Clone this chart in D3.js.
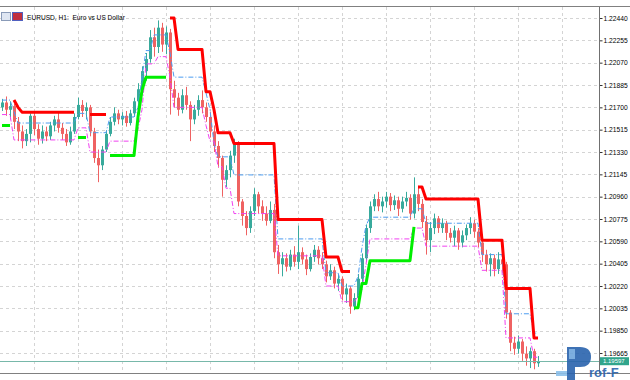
<!DOCTYPE html>
<html>
<head>
<meta charset="utf-8">
<script src="https://cdn.jsdelivr.net/npm/d3@7"></script>
<style>
  body { margin: 0; background: #fff; }
  svg { display: block; }
  .lbl { font-family: "Liberation Sans", Arial, sans-serif; font-size: 6.7px; fill: #000; }
</style>
</head>
<body>
<div id="chart"></div>
<script>
// EURUSD H1 candles with step trailing lines
// ======================================================

var closes = [1.2174,1.2168,1.2171,1.2158,1.2150,1.2142,1.2148,1.2163,1.2152,1.2144,
  1.2150,1.2146,1.2155,1.2160,1.2153,1.2148,1.2141,1.2150,1.2162,1.2172,
  1.2167,1.2170,1.2150,1.2128,1.2122,1.2135,1.2148,1.2158,1.2165,1.2160,
  1.2163,1.2157,1.2165,1.2175,1.2185,1.2200,1.2210,1.2228,1.2220,1.2236,
  1.2222,1.2232,1.2185,1.2178,1.2168,1.2180,1.2172,1.2160,1.2168,1.2176,
  1.2170,1.2162,1.2150,1.2138,1.2128,1.2110,1.2118,1.2130,1.2140,1.2092,
  1.2080,1.2070,1.2084,1.2098,1.2088,1.2082,1.2076,1.2085,1.2050,1.2040,
  1.2045,1.2038,1.2048,1.2042,1.2050,1.2044,1.2036,1.2046,1.2052,1.2045,
  1.2040,1.2030,1.2035,1.2024,1.2028,1.2015,1.2020,1.2005,1.2012,1.2028,
  1.2045,1.2070,1.2088,1.2094,1.2088,1.2092,1.2096,1.2089,1.2093,1.2086,
  1.2092,1.2095,1.2082,1.2098,1.2090,1.2075,1.2060,1.2070,1.2078,1.2070,
  1.2074,1.2066,1.2062,1.2068,1.2058,1.2064,1.2070,1.2074,1.2067,1.2058,
  1.2048,1.2040,1.2045,1.2036,1.2044,1.2040,1.2000,1.1975,1.1970,1.1976,
  1.1966,1.1962,1.1968,1.1958,1.19597];

var opens = [1.2170,1.2174,1.2168,1.2171,1.2158,1.2150,1.2142,1.2148,1.2163,1.2152,
  1.2144,1.2150,1.2146,1.2155,1.2160,1.2153,1.2148,1.2141,1.2150,1.2162,
  1.2172,1.2167,1.2170,1.2150,1.2128,1.2122,1.2135,1.2148,1.2158,1.2165,
  1.2160,1.2163,1.2157,1.2165,1.2175,1.2185,1.2200,1.2210,1.2228,1.2220,
  1.2236,1.2222,1.2232,1.2185,1.2178,1.2168,1.2180,1.2172,1.2160,1.2168,
  1.2176,1.2170,1.2162,1.2150,1.2138,1.2128,1.2110,1.2118,1.2130,1.2140,
  1.2092,1.2080,1.2070,1.2084,1.2098,1.2088,1.2082,1.2076,1.2085,1.2050,
  1.2040,1.2045,1.2038,1.2048,1.2042,1.2050,1.2044,1.2036,1.2046,1.2052,
  1.2045,1.2040,1.2030,1.2035,1.2024,1.2028,1.2015,1.2020,1.2005,1.2012,
  1.2028,1.2045,1.2070,1.2088,1.2094,1.2088,1.2092,1.2096,1.2089,1.2093,
  1.2086,1.2092,1.2095,1.2082,1.2098,1.2090,1.2075,1.2060,1.2070,1.2078,
  1.2070,1.2074,1.2066,1.2062,1.2068,1.2058,1.2064,1.2070,1.2074,1.2067,
  1.2058,1.2048,1.2040,1.2045,1.2036,1.2044,1.2040,1.2000,1.1975,1.1970,
  1.1976,1.1966,1.1962,1.1968,1.1958];

var highs = [1.2177,1.2179,1.2175,1.2173,1.2162,1.2155,1.2152,1.2165,1.2166,1.2156,
  1.2155,1.2154,1.2158,1.2163,1.2166,1.2157,1.2152,1.2154,1.2165,1.2178,
  1.2176,1.2174,1.2172,1.2153,1.2135,1.2138,1.2151,1.2162,1.2170,1.2168,
  1.2166,1.2167,1.2168,1.2178,1.2190,1.2204,1.2215,1.2234,1.2236,1.2242,
  1.2240,1.2237,1.2235,1.2192,1.2182,1.2185,1.2187,1.2175,1.2172,1.2180,
  1.2184,1.2174,1.2166,1.2155,1.2142,1.2130,1.2122,1.2134,1.2144,1.2142,
  1.2094,1.2084,1.2088,1.2103,1.2100,1.2093,1.2088,1.2092,1.2090,1.2056,
  1.2050,1.2049,1.2052,1.2055,1.2072,1.2054,1.2048,1.2049,1.2056,1.2055,
  1.2050,1.2043,1.2040,1.2038,1.2032,1.2030,1.2024,1.2022,1.2016,1.2032,
  1.2049,1.2073,1.2092,1.2098,1.2100,1.2096,1.2100,1.2099,1.2097,1.2096,
  1.2096,1.2100,1.2098,1.2112,1.2105,1.2094,1.2080,1.2075,1.2082,1.2080,
  1.2078,1.2076,1.2070,1.2072,1.2070,1.2068,1.2073,1.2079,1.2077,1.2070,
  1.2060,1.2052,1.2049,1.2048,1.2050,1.2052,1.2042,1.2002,1.1980,1.1981,
  1.1978,1.1972,1.1971,1.1970,1.1964];

var lows = [1.2167,1.2163,1.2160,1.2152,1.2142,1.2136,1.2138,1.2141,1.2147,1.2139,
  1.2140,1.2142,1.2143,1.2150,1.2149,1.2143,1.2138,1.2139,1.2148,1.2160,
  1.2162,1.2160,1.2146,1.2124,1.2108,1.2118,1.2133,1.2146,1.2155,1.2156,
  1.2155,1.2154,1.2155,1.2162,1.2170,1.2182,1.2192,1.2207,1.2212,1.2215,
  1.2216,1.2214,1.2164,1.2170,1.2163,1.2165,1.2168,1.2142,1.2156,1.2163,
  1.2165,1.2158,1.2145,1.2133,1.2120,1.2096,1.2104,1.2112,1.2124,1.2088,
  1.2072,1.2064,1.2066,1.2080,1.2082,1.2076,1.2072,1.2074,1.2045,1.2032,
  1.2030,1.2034,1.2035,1.2038,1.2036,1.2040,1.2031,1.2034,1.2042,1.2040,
  1.2036,1.2025,1.2027,1.2020,1.2018,1.2010,1.2008,1.1999,1.2002,1.2010,
  1.2025,1.2042,1.2066,1.2084,1.2084,1.2083,1.2087,1.2084,1.2085,1.2080,
  1.2083,1.2088,1.2077,1.2078,1.2084,1.2070,1.2048,1.2050,1.2065,1.2066,
  1.2066,1.2060,1.2058,1.2055,1.2052,1.2054,1.2060,1.2065,1.2062,1.2054,
  1.2042,1.2034,1.2030,1.2030,1.2032,1.2033,1.1995,1.1968,1.1965,1.1966,
  1.1960,1.1956,1.1954,1.1953,1.1955];

// indicator levels: [first bar, last bar, price]
var redRuns = [[3,3,1.2176],[4,4,1.2170],[5,18,1.2166],
  [22,26,1.2164],
  [42,43,1.2244],[44,50,1.2218],[51,52,1.2183],[53,53,1.2168],[54,57,1.2149],
  [58,68,1.2140],[69,80,1.2077],[81,84,1.2046],[85,87,1.2034],
  [104,105,1.2104],[106,119,1.2094],[120,125,1.2060],[126,132,1.2020],[133,134,1.1979]];

var greenRuns = [[0,2,1.2155],
  [19,21,1.2145],
  [27,33,1.2130],[34,34,1.2162],[35,35,1.2184],[36,41,1.2195],
  [88,89,1.2004],[90,91,1.2024],[92,102,1.2043],[103,103,1.2071]];

var blueRuns = [[0,2,1.2176],[4,18,1.2157],[19,21,1.2165],[22,26,1.2149],
  [27,33,1.2162],[34,34,1.2170],[35,35,1.2195],[36,37,1.2217],[38,41,1.2230],
  [42,42,1.2215],[43,50,1.2195],[51,51,1.2182],[52,52,1.2168],[53,53,1.2140],
  [54,57,1.2129],[58,68,1.2114],[69,80,1.2061],[81,84,1.2033],[85,87,1.2022],
  [88,88,1.2022],[89,89,1.2030],[90,90,1.2054],[91,91,1.2072],[92,102,1.2079],
  [103,105,1.2086],[106,119,1.2074],[120,125,1.2048],[126,132,1.1999],[133,134,1.1983]];

var magentaRuns = [[0,2,1.2164],[3,18,1.2143],[19,21,1.2153],[22,26,1.2133],
  [27,33,1.2142],[34,34,1.2152],[35,35,1.2168],[36,38,1.2206],[39,41,1.2212],
  [42,42,1.2195],[43,50,1.2170],[51,51,1.2155],[52,53,1.2142],[54,55,1.2121],
  [56,57,1.2103],[58,68,1.2082],[69,80,1.2047],[81,84,1.2022],[85,88,1.2009],
  [89,89,1.2013],[90,90,1.2019],[91,91,1.2040],[92,102,1.2061],[103,105,1.2070],
  [106,119,1.2055],[120,125,1.2035],[126,132,1.1979],[133,134,1.1963]];

var priceTicks = [1.22440,1.22255,1.22070,1.21885,1.21700,1.21515,1.21330,1.21145,
  1.20960,1.20775,1.20590,1.20405,1.20220,1.20035,1.19850,1.19665];

var gridBars = [8, 19, 30, 41, 52, 63, 74, 85, 96, 107, 118, 129, 140];

var bidPrice = 1.19597;
var chartTitle = "EURUSD, H1:  Euro vs US Dollar";

// Section 1: canvas
// ======================================================
var width = 630;
var height = 380;
var plotRight = 599;
var plotTop = 7;
var plotBottom = 373;

var svg = d3.select("#chart")
  .append("svg")
  .attr("width", width)
  .attr("height", height);

svg.append("defs").append("clipPath")
  .attr("id", "plotClip")
  .append("rect")
  .attr("x", 0)
  .attr("y", plotTop)
  .attr("width", plotRight)
  .attr("height", plotBottom - plotTop);

var xScale = d3.scaleLinear().domain([0, 134]).range([2, 538]);
var yScale = d3.scaleLinear().domain([1.19665, 1.22440]).range([353, 18]);

var plot = svg.append("g").attr("clip-path", "url(#plotClip)");

// grid
plot.selectAll("line.hgrid").data(priceTicks).enter()
  .append("line")
  .attr("x1", 0).attr("x2", plotRight)
  .attr("y1", function(d) { return Math.round(yScale(d)) + 0.5; })
  .attr("y2", function(d) { return Math.round(yScale(d)) + 0.5; })
  .attr("stroke", "#d4d4d4")
  .attr("stroke-dasharray", "3,3");

plot.selectAll("line.vgrid").data(gridBars).enter()
  .append("line")
  .attr("x1", function(d) { return xScale(d) + 0.5; })
  .attr("x2", function(d) { return xScale(d) + 0.5; })
  .attr("y1", plotTop).attr("y2", plotBottom)
  .attr("stroke", "#d4d4d4")
  .attr("stroke-dasharray", "3,3");

// Section 2: candles
// ======================================================
var bullColor = "#38aa9c";
var bearColor = "#ef6262";

var bars = d3.range(closes.length);

var candles = plot.selectAll("g.candle").data(bars).enter().append("g");

candles.append("line")
  .attr("x1", function(i) { return xScale(i) + 0.5; })
  .attr("x2", function(i) { return xScale(i) + 0.5; })
  .attr("y1", function(i) { return yScale(highs[i]); })
  .attr("y2", function(i) { return yScale(lows[i]); })
  .attr("stroke", function(i) { return closes[i] >= opens[i] ? bullColor : bearColor; })
  .attr("stroke-width", 1);

candles.append("rect")
  .attr("x", function(i) { return xScale(i) - 1; })
  .attr("width", 3)
  .attr("y", function(i) { return yScale(Math.max(opens[i], closes[i])); })
  .attr("height", function(i) {
    return Math.max(1, Math.abs(yScale(opens[i]) - yScale(closes[i])));
  })
  .attr("fill", function(i) { return closes[i] >= opens[i] ? bullColor : bearColor; });

// bid line
plot.append("line")
  .attr("x1", 0).attr("x2", plotRight)
  .attr("y1", Math.round(yScale(bidPrice)) + 0.5)
  .attr("y2", Math.round(yScale(bidPrice)) + 0.5)
  .attr("stroke", "#78b8aa")
  .attr("stroke-width", 1);

// Section 3: step lines
// ======================================================
function runsToPoints(runs) {
  var pts = [];
  runs.forEach(function(r, k) {
    if (k > 0 && r[0] - runs[k - 1][1] > 2) pts.push(null);
    pts.push([r[0], r[2]]);
    pts.push([r[1], r[2]]);
  });
  return pts;
}

var stepLine = d3.line()
  .defined(function(d) { return d !== null; })
  .x(function(d) { return xScale(d[0]); })
  .y(function(d) { return yScale(d[1]); });

plot.append("path")
  .attr("d", stepLine(runsToPoints(blueRuns)))
  .attr("fill", "none")
  .attr("stroke", "#4c9cf0")
  .attr("stroke-width", 1)
  .attr("stroke-dasharray", "5,2,1,2");

plot.append("path")
  .attr("d", stepLine(runsToPoints(magentaRuns)))
  .attr("fill", "none")
  .attr("stroke", "#f040f0")
  .attr("stroke-width", 1)
  .attr("stroke-dasharray", "5,2,1,2");

plot.append("path")
  .attr("d", stepLine(runsToPoints(redRuns)))
  .attr("fill", "none")
  .attr("stroke", "#ff0000")
  .attr("stroke-width", 3)
  .attr("stroke-linejoin", "round");

plot.append("path")
  .attr("d", stepLine(runsToPoints(greenRuns)))
  .attr("fill", "none")
  .attr("stroke", "#00ee00")
  .attr("stroke-width", 3)
  .attr("stroke-linejoin", "round");

// Section 4: frame, axis, title
// ======================================================
svg.append("line")
  .attr("x1", 0).attr("x2", width)
  .attr("y1", plotTop - 0.5).attr("y2", plotTop - 0.5)
  .attr("stroke", "#808080");

svg.append("line")
  .attr("x1", 0).attr("x2", width)
  .attr("y1", plotBottom + 0.5).attr("y2", plotBottom + 0.5)
  .attr("stroke", "#808080");

var yAxis = d3.axisRight(yScale)
  .tickValues(priceTicks)
  .tickSize(3)
  .tickPadding(1)
  .tickFormat(d3.format(".5f"));

var axisG = svg.append("g")
  .attr("transform", "translate(" + (plotRight + 0.5) + ",0)")
  .call(yAxis);

axisG.select(".domain").remove();
axisG.selectAll("text").attr("class", "lbl").attr("font-size", null).attr("font-family", null);
axisG.selectAll("line").attr("stroke", "#333");

svg.append("line")
  .attr("x1", plotRight + 0.5).attr("x2", plotRight + 0.5)
  .attr("y1", plotTop).attr("y2", plotBottom)
  .attr("stroke", "#707070");

// watermark logo (drawn under the bid label)
var logo = svg.append("g").attr("opacity", 0.9);
logo.append("rect").attr("x", 556).attr("y", 371).attr("width", 12).attr("height", 5)
  .attr("fill", "#8cc0ea");
logo.append("path")
  .attr("d", "M567,380 L567,347 L580,347 Q591,347 591,357 Q591,367 580,367 L575,367 L575,380 Z")
  .attr("fill", "#2a63ad");
logo.append("rect").attr("x", 569).attr("y", 349).attr("width", 6).attr("height", 10)
  .attr("fill", "#6fa6dc");
logo.append("text")
  .attr("x", 589).attr("y", 377.2)
  .attr("font-family", "Liberation Sans, Arial, sans-serif")
  .attr("font-weight", "bold")
  .attr("font-size", 13)
  .attr("fill", "#2a63ad")
  .text("rof-F");

// bid label
var bidY = yScale(bidPrice);
svg.append("rect")
  .attr("x", plotRight + 1).attr("y", bidY - 4)
  .attr("width", 29).attr("height", 8)
  .attr("fill", "#30a58c");
svg.append("text")
  .attr("class", "lbl")
  .attr("x", plotRight + 4).attr("y", bidY + 2.2)
  .style("font-size", "6px")
  .style("fill", "#ffffff")
  .text(d3.format(".5f")(bidPrice));

// title icons and text
svg.append("rect").attr("x", 1.5).attr("y", 12.5).attr("width", 9).attr("height", 8)
  .attr("fill", "#dfe6f2").attr("stroke", "#8a9bb8");
svg.append("rect").attr("x", 12.5).attr("y", 12.5).attr("width", 10).attr("height", 8)
  .attr("fill", "#c03040").attr("stroke", "#5060c0");
svg.append("text")
  .attr("class", "lbl")
  .attr("x", 27).attr("y", 20)
  .style("font-size", "6.6px")
  .style("white-space", "pre")
  .text(chartTitle);
</script>
</body>
</html>
